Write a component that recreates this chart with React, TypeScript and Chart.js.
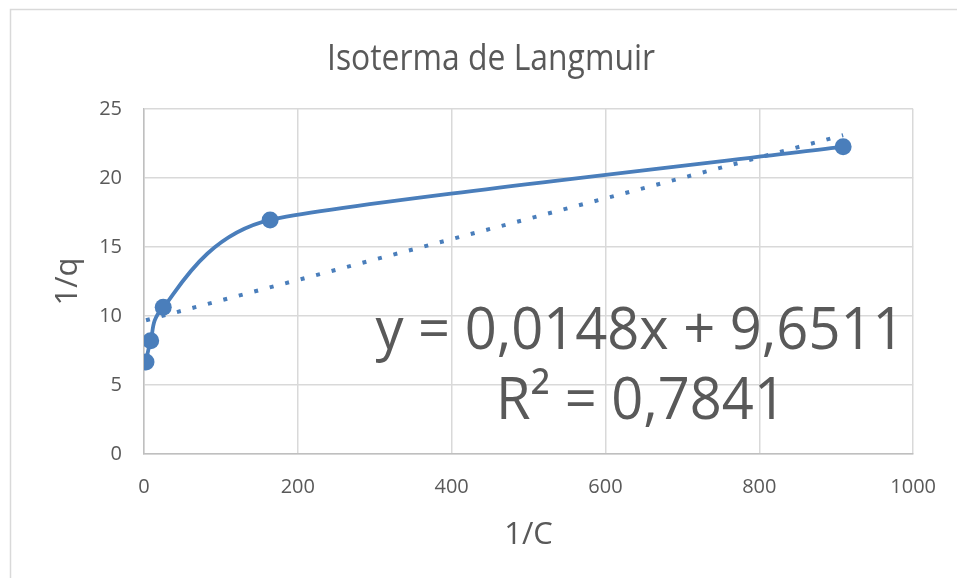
import React, { useEffect, useRef } from 'react';
import { Chart, registerables } from 'chart.js';

Chart.register(...registerables);

// Data
const invC = [2.6, 8.7, 25, 164, 909];
const invQ = [6.67, 8.21, 10.63, 16.96, 22.27];
const slope = 0.0148;
const intercept = 9.6511;
const rSquared = 0.7841;
const xTickValues = [0, 200, 400, 600, 800, 1000];
const yTickValues = [0, 5, 10, 15, 20, 25];

const chartTitle = 'Isoterma de Langmuir';
const xTitle = '1/C';
const yTitle = '1/q';

const trendX = [invC[0], invC[invC.length - 1]];

const TEXT = '#595959';
const BLUE = '#4a7ebb';
const FONT = "'Open Sans', 'Noto Sans', sans-serif";

const fmt = (v: number) => v.toFixed(4).replace('.', ',');

// Excel-like smoothing: re-computes the bezier control points of the
// line element that Chart.js draws (points stay where the scales put them).
const smoothPlugin = {
  id: 'excelSmooth',
  beforeDatasetDraw(chart: any, args: any) {
    if (args.index !== 0) return;
    const meta = chart.getDatasetMeta(0);
    const pts = meta.data as any[];
    const n = pts.length;
    const dist = (a: any, b: any) => Math.hypot(b.x - a.x, b.y - a.y);
    for (let i = 0; i < n; i++) {
      const p = pts[i];
      const prev = pts[Math.max(0, i - 1)];
      const next = pts[Math.min(n - 1, i + 1)];
      const dx = next.x - prev.x;
      const dy = next.y - prev.y;
      const d02 = Math.hypot(dx, dy) || 1;
      let leg = d02 / 6;
      if (i > 0 && i < n - 1) {
        leg = Math.min(leg, dist(prev, p) / 2, dist(p, next) / 2);
      }
      const f = leg / d02;
      p.cp1x = p.x - dx * f;
      p.cp1y = p.y - dy * f;
      p.cp2x = p.x + dx * f;
      p.cp2y = p.y + dy * f;
    }
    const line = meta.dataset;
    line._pointsUpdated = true;
    line._path = undefined;
  },
};

const decorPlugin = {
  id: 'decor',
  beforeDraw(chart: any) {
    const ctx = chart.ctx;
    ctx.save();
    ctx.fillStyle = '#ffffff';
    ctx.fillRect(0, 0, chart.width, chart.height);
    ctx.strokeStyle = '#d9d9d9';
    ctx.lineWidth = 1.5;
    ctx.strokeRect(10.5, 9.5, chart.width + 20, chart.height + 20);
    ctx.restore();
  },
  afterDraw(chart: any) {
    const ctx = chart.ctx;
    const drawScaled = (text: string, cx: number, y: number, size: number, targetW: number | null, ratioIn?: number) => {
      ctx.font = `${size}px ${FONT}`;
      const w = ctx.measureText(text).width;
      const ratio = ratioIn ?? (targetW ? targetW / w : 1);
      ctx.save();
      ctx.translate(cx, y);
      ctx.scale(ratio, 1);
      ctx.textAlign = 'center';
      ctx.textBaseline = 'alphabetic';
      ctx.fillStyle = TEXT;
      ctx.fillText(text, 0, 0);
      ctx.restore();
      return ratio;
    };
    // Title
    drawScaled(chartTitle, 491, 70, 36, 328);
    // Trendline equation
    const line1 = `y = ${fmt(slope)}x + ${fmt(intercept)}`;
    const line2 = `R² = ${fmt(rSquared)}`;
    const r = drawScaled(line1, 640, 349, 59, 529);
    drawScaled(line2, 641, 419, 59, null, r);
  },
};

export default function App() {
  const ref = useRef<HTMLCanvasElement | null>(null);
  useEffect(() => {
    document.body.style.margin = '0';
    const canvas = ref.current!;
    const chart = new Chart(canvas, {
      type: 'scatter',
      data: {
        datasets: [
          {
            label: '1/q',
            data: invC.map((x, i) => ({ x, y: invQ[i] })),
            showLine: true,
            borderColor: BLUE,
            backgroundColor: BLUE,
            borderWidth: 3.8,
            pointRadius: 8.5,
            pointHoverRadius: 8.5,
            pointBorderWidth: 0,
            tension: 0.4,
            order: 1,
          },
          {
            label: 'Linear',
            data: trendX.map((x) => ({ x, y: slope * x + intercept })),
            showLine: true,
            borderColor: BLUE,
            borderWidth: 4,
            borderDash: [4, 12],
            pointRadius: 0,
            tension: 0,
            order: 2,
          },
        ],
      },
      options: {
        responsive: false,
        animation: false,
        layout: { padding: { left: 10, right: 40, top: 109, bottom: 0 } },
        plugins: {
          legend: { display: false },
          title: { display: false },
          tooltip: { enabled: false },
        },
        scales: {
          x: {
            type: 'linear',
            min: 0,
            max: 1000,
            afterBuildTicks: (s: any) => {
              s.ticks = xTickValues.map((v) => ({ value: v }));
            },
            afterFit: (s: any) => {
              s.height = 124;
            },
            ticks: {
              color: TEXT,
              font: { family: FONT, size: 20 },
              padding: 21,
              maxRotation: 0,
              callback: (v: any) => String(v),
            },
            grid: { color: '#d9d9d9', lineWidth: 1.5, drawTicks: false },
            border: { color: '#bfbfbf', width: 1.5 },
            title: {
              display: true,
              text: xTitle,
              color: TEXT,
              font: { family: FONT, size: 31 },
              padding: { top: 0, bottom: 24 },
            },
          },
          y: {
            type: 'linear',
            min: 0,
            max: 25,
            afterBuildTicks: (s: any) => {
              s.ticks = yTickValues.map((v) => ({ value: v }));
            },
            afterFit: (s: any) => {
              s.width = 134;
            },
            ticks: {
              color: TEXT,
              font: { family: FONT, size: 20 },
              padding: 22,
              callback: (v: any) => String(v),
            },
            grid: { color: '#d9d9d9', lineWidth: 1.5, drawTicks: false },
            border: { color: '#bfbfbf', width: 1.5 },
            title: {
              display: true,
              text: yTitle,
              color: TEXT,
              font: { family: FONT, size: 31 },
              padding: { top: 40, bottom: 0 },
            },
          },
        },
      },
      plugins: [smoothPlugin, decorPlugin],
    });
    return () => chart.destroy();
  }, []);
  return <canvas ref={ref} width={957} height={578} style={{ display: 'block', width: 957, height: 578 }} />;
}
